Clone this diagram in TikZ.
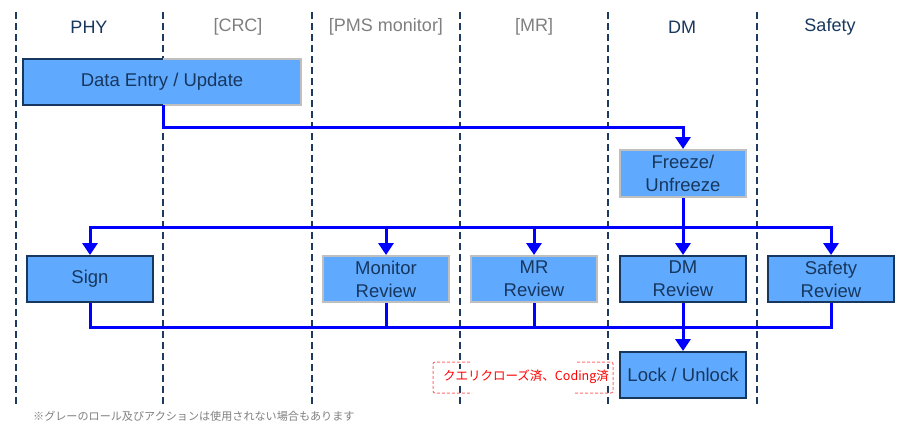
\documentclass[tikz,border=0pt]{standalone}
\usepackage{fontspec}
\setmainfont{Liberation Sans}
\newfontfamily\jp{Noto Sans CJK JP}
\usetikzlibrary{arrows.meta,calc}
\definecolor{navy}{RGB}{23,55,94}
\definecolor{boxfill}{RGB}{95,170,255}
\definecolor{graybd}{RGB}{191,191,191}
\definecolor{graytxt}{RGB}{127,127,127}
\definecolor{lanec}{RGB}{31,58,96}
\definecolor{conn}{RGB}{0,0,255}
\definecolor{redtxt}{RGB}{255,0,0}
\definecolor{redbd}{RGB}{255,110,110}
\tikzset{
  lane/.style={draw=lanec,line width=2pt,dash pattern=on 7pt off 4pt},
  hdr/.style={font=\fontsize{18}{20}\selectfont,text=navy},
  hdrgray/.style={font=\fontsize{18}{20}\selectfont,text=graytxt},
  basebox/.style={rectangle,fill=boxfill,minimum width=126pt,minimum height=46pt,inner sep=0pt,
    align=center,text=navy,font=\fontsize{18.5}{23}\selectfont},
  darkbox/.style={basebox,draw=navy,line width=2pt},
  graybox/.style={basebox,draw=graybd,line width=2pt},
  wire/.style={draw=conn,line width=3pt},
  arrowline/.style={wire,-{Triangle[width=15pt,length=12pt]}},
  redbr/.style={draw=redbd,line width=1pt,dash pattern=on 3pt off 2pt,rounded corners=2pt},
}
\begin{document}
\begin{tikzpicture}[x=1pt,y=-1pt]
\useasboundingbox (0,0) rectangle (900,423);
% lanes
\foreach \n/\x in {1/16,2/163,3/312,4/460,5/608,6/757}{
  \coordinate (L\n) at (\x,0);
  \draw[lane] (\x,12) -- (\x,405);
}
% headers
\node[hdr] (hphy) at (89,27) {PHY};
\node[hdrgray] (hcrc) at (238,27) {[CRC]};
\node[hdrgray] (hpms) at (386,27) {[PMS monitor]};
\node[hdrgray] (hmr) at (534,27) {[MR]};
\node[hdr] (hdm) at (682,27) {DM};
\node[hdr] (hsaf) at (830,27) {Safety};
% data entry
\node[basebox,minimum width=278pt] (de) at (162,82) {Data Entry / Update};
\draw[navy,line width=2pt] (de.north -| L2) -- (de.north west) -- (de.south west) -- (de.south -| L2);
\draw[graybd,line width=2pt] (de.north -| L2) -- (de.north east) -- (de.south east) -- (de.south -| L2);
% freeze
\node[graybox,minimum height=47pt] (fz) at (683,173.5) {Freeze/\\Unfreeze};
% row
\node[darkbox] (sign) at (90,279) {Sign};
\node[graybox] (mon) at (386,279) {Monitor\\Review};
\node[graybox] (mr) at (534,279) {MR\\Review};
\node[darkbox] (dm) at (683,279) {DM\\Review};
\node[darkbox] (saf) at (831,279) {Safety\\Review};
\node[darkbox] (lock) at (683,375) {Lock / Unlock};
% connectors
\draw[arrowline] (de.south -| L2) -- ++(0,22) -| (fz.north);
\coordinate (b1) at (683,227);
\coordinate (b2) at (683,327);
\draw[arrowline] (fz.south) -- (dm.north);
\draw[arrowline] (b1) -| (sign.north);
\draw[arrowline] (b1) -| (saf.north);
\draw[arrowline] (mon.north |- b1) -- (mon.north);
\draw[arrowline] (mr.north |- b1) -- (mr.north);
\draw[wire] (sign.south) |- (b2) -| (saf.south);
\draw[wire] (mon.south) -- (mon.south |- b2);
\draw[wire] (mr.south) -- (mr.south |- b2);
\draw[arrowline] (dm.south) -- (lock.north);
% red label
\node[fill=white,inner sep=1pt,text=redtxt,font=\jp\fontsize{12.5}{14}\selectfont] (lbl) at (526,377) {クエリクローズ済、Coding済};
\coordinate (rtl) at (433,362);
\coordinate (rbr) at (613,393);
\draw[redbr] (470,362) -- (rtl) -- (rtl |- rbr) -- (472,393);
\draw[redbr] (577,362) -- (rbr |- rtl) -- (rbr) -- (575,393);
% footnote
\node[anchor=west,inner sep=0pt,text=graytxt,font=\jp\fontsize{11.1}{13}\selectfont] (note) at (33,416) {※グレーのロール及びアクションは使用されない場合もあります};
\end{tikzpicture}
\end{document}
